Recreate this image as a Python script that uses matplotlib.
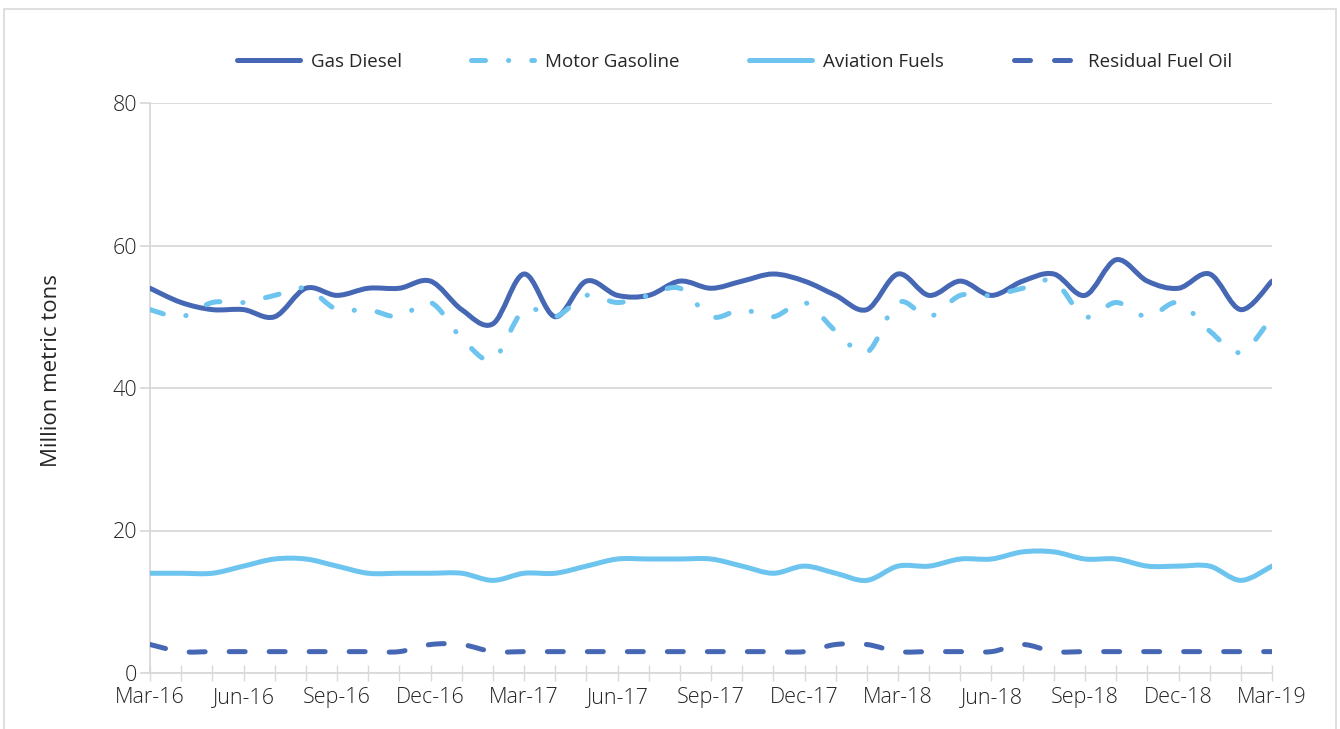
import matplotlib
matplotlib.use('Agg')
import matplotlib.pyplot as plt
from matplotlib.path import Path
from matplotlib.patches import PathPatch, Rectangle
from matplotlib.lines import Line2D
import numpy as np

months = ['Mar-16', 'Apr-16', 'May-16', 'Jun-16', 'Jul-16', 'Aug-16', 'Sep-16', 'Oct-16', 'Nov-16',
          'Dec-16', 'Jan-17', 'Feb-17', 'Mar-17', 'Apr-17', 'May-17', 'Jun-17', 'Jul-17', 'Aug-17',
          'Sep-17', 'Oct-17', 'Nov-17', 'Dec-17', 'Jan-18', 'Feb-18', 'Mar-18', 'Apr-18', 'May-18',
          'Jun-18', 'Jul-18', 'Aug-18', 'Sep-18', 'Oct-18', 'Nov-18', 'Dec-18', 'Jan-19', 'Feb-19',
          'Mar-19']

gas_diesel = [54, 52, 51, 51, 50, 54, 53, 54, 54, 55, 51, 49, 56, 50, 55, 53, 53, 55, 54, 55, 56,
              55, 53, 51, 56, 53, 55, 53, 55, 56, 53, 58, 55, 54, 56, 51, 55]
motor_gasoline = [51, 50, 52, 52, 53, 54, 51, 51, 50, 52, 47, 44, 51, 50, 53, 52, 53, 54, 50, 51,
                  50, 52, 48, 45, 52, 50, 53, 53, 54, 55, 50, 52, 50, 52, 48, 45, 50]
aviation_fuels = [14, 14, 14, 15, 16, 16, 15, 14, 14, 14, 14, 13, 14, 14, 15, 16, 16, 16, 16, 15,
                  14, 15, 14, 13, 15, 15, 16, 16, 17, 17, 16, 16, 15, 15, 15, 13, 15]
residual_fuel_oil = [4, 3, 3, 3, 3, 3, 3, 3, 3, 4, 4, 3, 3, 3, 3, 3, 3, 3, 3, 3, 3, 3, 4, 4, 3, 3,
                     3, 3, 4, 3, 3, 3, 3, 3, 3, 3, 3]

DARK = '#4668b4'
LIGHT = '#6cc4ef'
GRID = '#d9d9d9'
TEXT = '#262626'
LW = 3.6

plt.rcParams['font.family'] = ['Open Sans', 'DejaVu Sans']
plt.rcParams['font.weight'] = 'light'


def smooth_path(xs, ys):
    # Excel-style smoothed line: cubic bezier through each point
    p = np.column_stack([xs, ys]).astype(float)
    n = len(p)
    verts = [p[0]]
    codes = [Path.MOVETO]
    for i in range(n - 1):
        p0 = p[i - 1] if i > 0 else p[i]
        p3 = p[i + 2] if i + 2 < n else p[i + 1]
        c1 = p[i] + (p[i + 1] - p0) / 6.0
        c2 = p[i + 1] - (p3 - p[i]) / 6.0
        verts += [c1, c2, p[i + 1]]
        codes += [Path.CURVE4] * 3
    return Path(verts, codes)


fig = plt.figure(figsize=(13.4, 7.29), dpi=100)
ax = fig.add_axes([150 / 1340, 56 / 729, 1122 / 1340, 570 / 729])

# outer chart border
fig.patches.append(Rectangle((4 / 1340, -0.05), 1332 / 1340, 1.05 - 9 / 729,
                             transform=fig.transFigure, fill=False,
                             edgecolor=GRID, linewidth=1.2))

x = np.arange(len(months))
styles = [
    ('Gas Diesel', gas_diesel, DARK, '-'),
    ('Motor Gasoline', motor_gasoline, LIGHT, (0, (2.8, 4.6, 0.05, 4.6))),
    ('Aviation Fuels', aviation_fuels, LIGHT, '-'),
    ('Residual Fuel Oil', residual_fuel_oil, DARK, (0, (3.2, 4.8))),
]

handles = []
for name, vals, color, ls in styles:
    patch = PathPatch(smooth_path(x, vals), fill=False, edgecolor=color, linewidth=LW,
                      linestyle=ls, capstyle='round', joinstyle='round', zorder=3)
    ax.add_patch(patch)
    handles.append(Line2D([], [], color=color, linewidth=LW, linestyle=ls,
                          solid_capstyle='round', dash_capstyle='round'))

ax.set_xlim(0, len(months) - 1)
ax.set_ylim(0, 80)
ax.set_yticks([0, 20, 40, 60, 80])
ax.set_xticks(x[::3])
ax.set_xticklabels(months[::3])
ax.set_xticks(x, minor=True)

ax.grid(axis='y', color=GRID, linewidth=1.3)
ax.set_axisbelow(True)
for s in ['top', 'right']:
    ax.spines[s].set_visible(False)
ax.spines['left'].set_color(GRID)
ax.spines['bottom'].set_color(GRID)
ax.spines['left'].set_linewidth(1.3)
ax.spines['bottom'].set_linewidth(1.3)

ax.tick_params(axis='y', length=7, width=1.3, color=GRID, labelsize=15.5, pad=2,
               labelcolor=TEXT)
ax.tick_params(axis='x', which='both', direction='inout', length=12, width=1.0, color=GRID,
               labelsize=15.5, pad=4, labelcolor=TEXT)

ax.set_ylabel('Million metric tons', fontsize=16, color=TEXT)
ax.yaxis.set_label_coords(-0.078, 0.53)

fig.legend(handles, [s[0] for s in styles], loc='center', bbox_to_anchor=(0.548, 0.915),
           ncol=4, frameon=False, handlelength=3.35, handletextpad=0.6,
           columnspacing=3.7, labelcolor=TEXT,
           prop={'family': ['Open Sans', 'DejaVu Sans'], 'size': 13.5, 'weight': 'normal'})

plt.savefig('out.png', dpi=100)
plt.close()
